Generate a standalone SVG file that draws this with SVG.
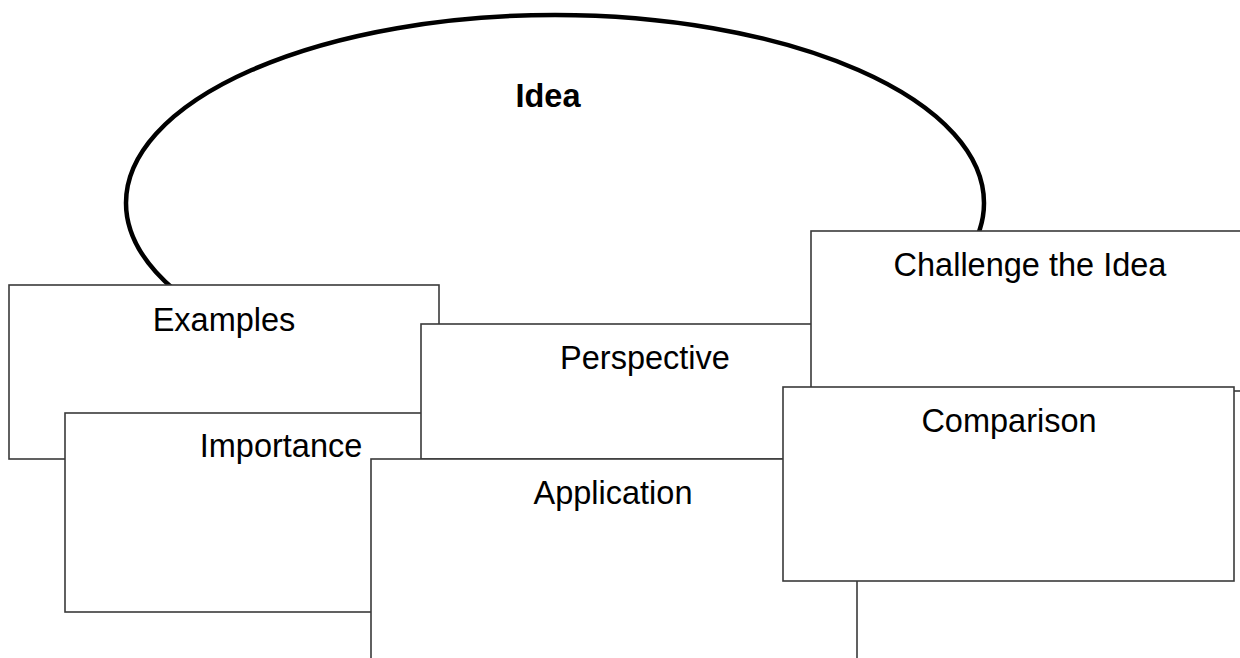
<svg xmlns="http://www.w3.org/2000/svg" width="1240" height="658" viewBox="0 0 1240 658">
<style>
.box{fill:#ffffff;stroke:#3a3a3a;stroke-width:1.6}
.lbl{font-family:"Liberation Sans",Arial,sans-serif;font-size:32.5px;fill:#000;text-anchor:middle}
.bold{font-weight:bold}
</style>
<rect width="1240" height="658" fill="#ffffff"/>
<g id="idea">
<ellipse cx="555" cy="203" rx="429" ry="188" fill="none" stroke="#000" stroke-width="4.5"/>
<text class="lbl bold" x="548" y="107">Idea</text>
</g>
<g id="connectors"></g>
<g id="examples">
<rect class="box" x="9" y="285" width="430" height="174"/>
<text class="lbl" x="224" y="331">Examples</text>
</g>
<g id="importance">
<rect class="box" x="65" y="413" width="432" height="199"/>
<text class="lbl" x="281" y="457">Importance</text>
</g>
<g id="perspective">
<rect class="box" x="421" y="324" width="449" height="135"/>
<text class="lbl" x="645" y="369">Perspective</text>
</g>
<g id="application">
<rect class="box" x="371" y="459" width="486" height="260"/>
<text class="lbl" x="613" y="504">Application</text>
</g>
<g id="challenge">
<rect class="box" x="811" y="231" width="440" height="160"/>
<text class="lbl" x="1030" y="276">Challenge the Idea</text>
</g>
<g id="comparison">
<rect class="box" x="783" y="387" width="451" height="194"/>
<text class="lbl" x="1009" y="432">Comparison</text>
</g>
</svg>
